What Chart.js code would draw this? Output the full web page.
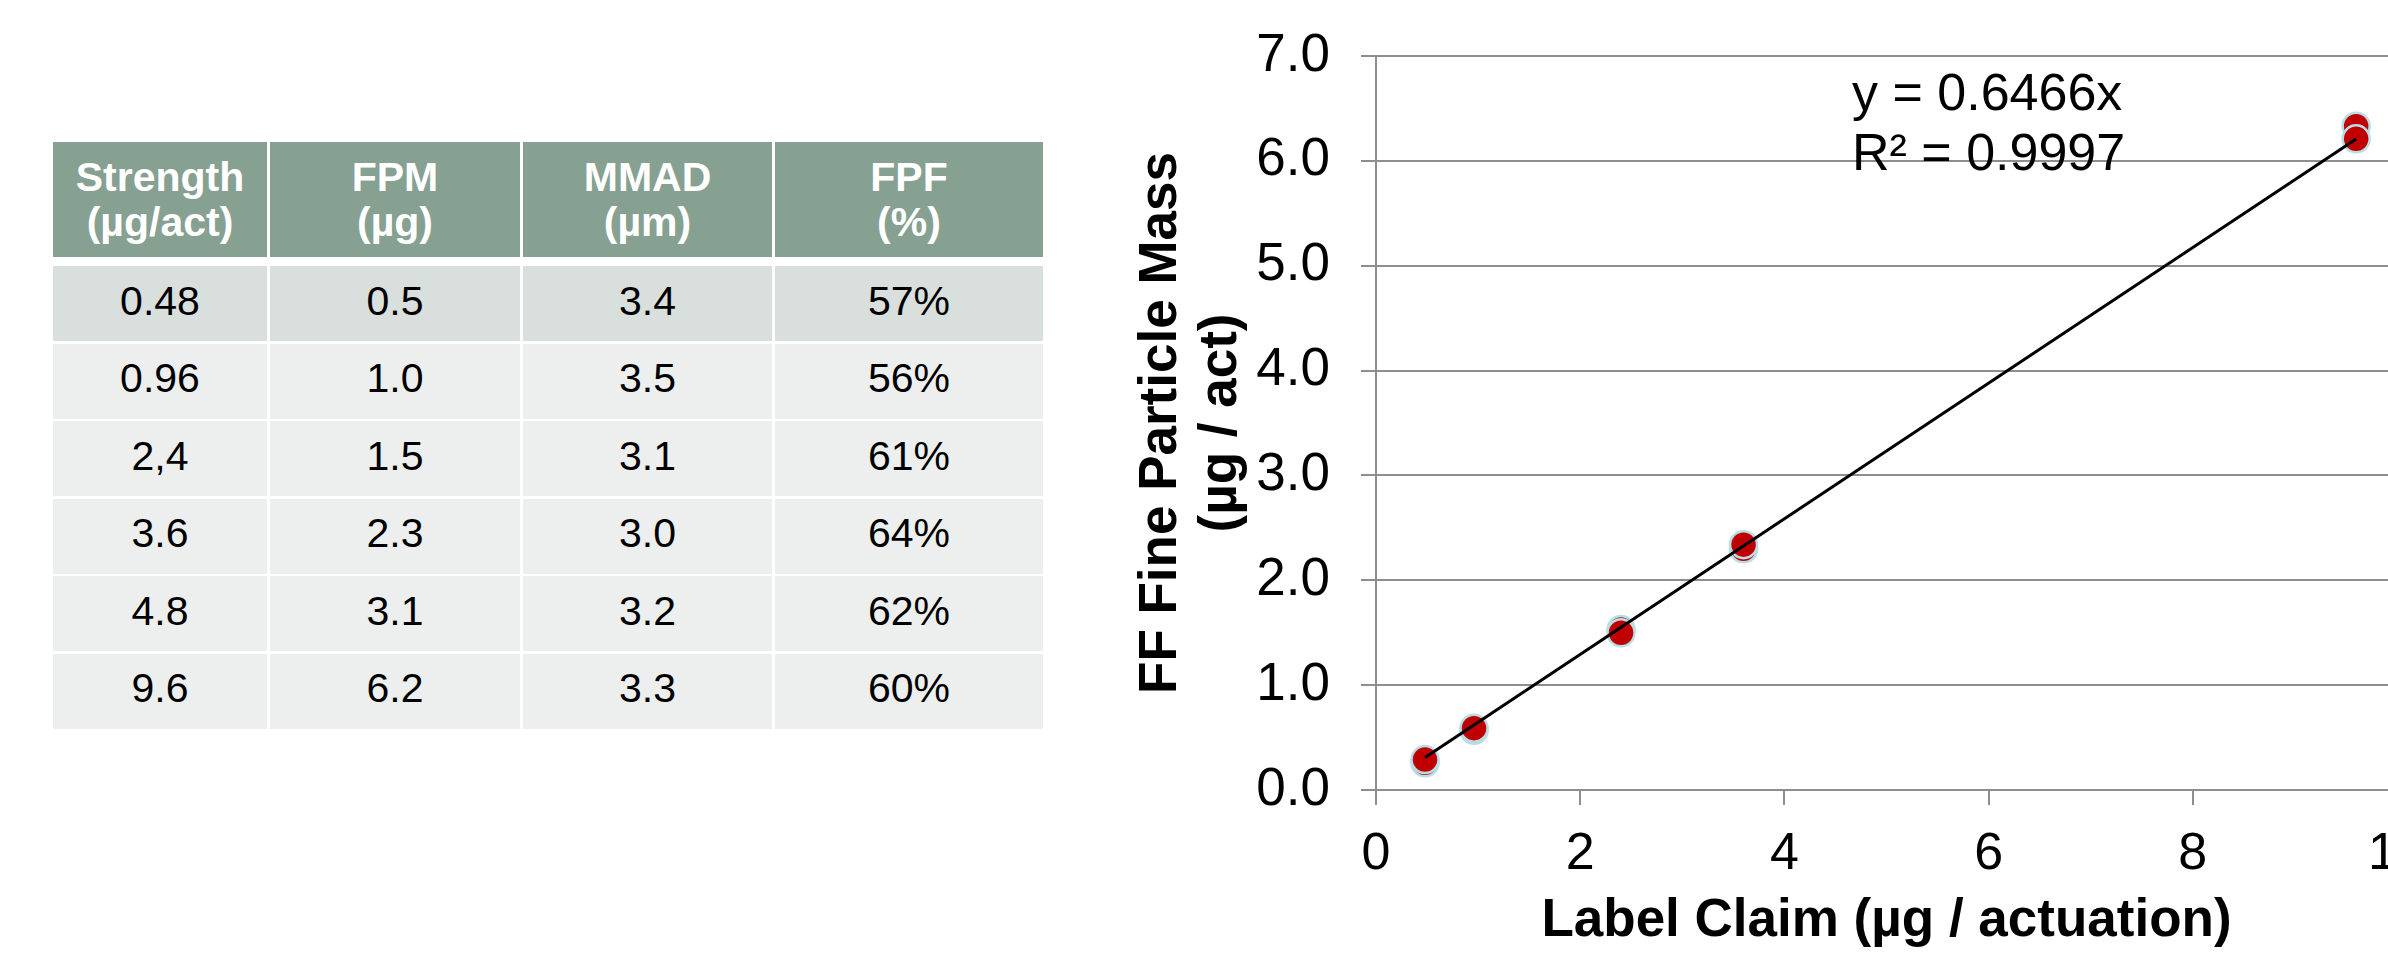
<!DOCTYPE html>
<html>
<head>
<meta charset="utf-8">
<script src="https://cdn.jsdelivr.net/npm/chart.js@4.4.1/dist/chart.umd.min.js"></script>
<style>
  html, body {
    margin: 0; padding: 0; background: #fff;
    width: 2388px; height: 961px; overflow: hidden; position: relative;
    font-family: 'Liberation Sans', Arial, sans-serif;
  }
  #summary {
    position: absolute; left: 53px; top: 142px;
    display: grid;
    grid-template-columns: 214px 250px 249px 268px;
    grid-template-rows: 121.5px repeat(6, 75px);
    column-gap: 3px; row-gap: 2.5px;
  }
  .hd {
    height: 115px; background: #86A092; color: #fff;
    font-weight: bold; font-size: 41px; line-height: 45px;
    display: flex; flex-direction: column; align-items: center; justify-content: center;
    text-align: center;
  }
  .cell {
    background: #EDEFEE; color: #000; font-size: 41px;
    display: flex; align-items: center; justify-content: center;
    padding-bottom: 5px; box-sizing: border-box;
  }
  .cell.first { background: #D9DFDC; }
  #chartBox { position: absolute; left: 1080px; top: 0; width: 1400px; height: 961px; }
</style>
</head>
<body>
<div id="summary"></div>
<div id="chartBox"><canvas id="fpmChart" width="1400" height="961"></canvas></div>
<script>
// Summary table columns
const tableHeaders = [['Strength', '(µg/act)'], ['FPM', '(µg)'], ['MMAD', '(µm)'], ['FPF', '(%)']];
const strengthCol = ['0.48', '0.96', '2,4', '3.6', '4.8', '9.6'];
const fpmCol = ['0.5', '1.0', '1.5', '2.3', '3.1', '6.2'];
const mmadCol = ['3.4', '3.5', '3.1', '3.0', '3.2', '3.3'];
const fpfCol = ['57%', '56%', '61%', '64%', '62%', '60%'];

// Fine particle mass vs label claim, two determinations per strength
const labelClaim = [0.48, 0.96, 2.4, 3.6, 9.6];
const fpmRun1 = [0.26, 0.57, 1.53, 2.30, 6.33];
const fpmRun2 = [0.29, 0.59, 1.50, 2.34, 6.21];

// Linear fit through the origin
const fitSlope = 0.6466;
const fitR2 = 0.9997;

// Axis ticks
const xTickValues = [0, 2, 4, 6, 8, 10];
const yTickValues = [0, 1, 2, 3, 4, 5, 6, 7];

// ---- build the table ----
const summary = document.getElementById('summary');
tableHeaders.forEach(lines => {
  const d = document.createElement('div');
  d.className = 'hd';
  lines.forEach(t => { const s = document.createElement('div'); s.textContent = t; d.appendChild(s); });
  summary.appendChild(d);
});
const columns = [strengthCol, fpmCol, mmadCol, fpfCol];
for (let r = 0; r < strengthCol.length; r++) {
  columns.forEach(col => {
    const d = document.createElement('div');
    d.className = 'cell' + (r === 0 ? ' first' : '');
    d.textContent = col[r];
    summary.appendChild(d);
  });
}

// ---- chart ----
const FONT = "'Liberation Sans', Arial, sans-serif";
const GRID = '#8e8e8e';

const fitLabel = {
  id: 'fitLabel',
  afterDatasetsDraw(chart) {
    const { ctx, chartArea } = chart;
    ctx.save();
    ctx.font = '52px ' + FONT;
    ctx.fillStyle = '#000';
    ctx.textAlign = 'left';
    ctx.textBaseline = 'alphabetic';
    const x = chartArea.left + 476;
    ctx.fillText('y = ' + fitSlope.toFixed(4) + 'x', x, chartArea.top + 54);
    ctx.fillText('R\u00B2 = ' + fitR2.toFixed(4), x, chartArea.top + 114);
    ctx.restore();
  }
};

const xMin = Math.min(...labelClaim);
const xMax = Math.max(...labelClaim);

const markerStyle = {
  backgroundColor: '#C00000',
  borderColor: '#B9DEE5',
  borderWidth: 2.5,
  pointRadius: 13.5
};

new Chart(document.getElementById('fpmChart'), {
  type: 'scatter',
  data: {
    datasets: [
      {
        label: 'Linear fit',
        data: [{ x: xMin, y: fitSlope * xMin }, { x: xMax, y: fitSlope * xMax }],
        showLine: true,
        borderColor: '#000',
        borderWidth: 3,
        pointRadius: 0,
        fill: false,
        order: 0
      },
      Object.assign({
        label: 'Run 2',
        data: labelClaim.map((x, i) => ({ x, y: fpmRun2[i] })),
        order: 1
      }, markerStyle),
      Object.assign({
        label: 'Run 1',
        data: labelClaim.map((x, i) => ({ x, y: fpmRun1[i] })),
        order: 2
      }, markerStyle)
    ]
  },
  options: {
    responsive: false,
    animation: false,
    devicePixelRatio: 1,
    layout: { padding: { left: 0, top: 56, right: 83, bottom: 0 } },
    plugins: { legend: { display: false }, tooltip: { enabled: false } },
    scales: {
      x: {
        type: 'linear', min: 0, max: 10,
        afterBuildTicks: s => { s.ticks = xTickValues.map(v => ({ value: v })); },
        afterFit: s => { s.height = 171; },
        grid: { drawOnChartArea: false, drawTicks: true, tickLength: 15, color: GRID, lineWidth: 2 },
        border: { display: true, color: GRID, width: 2 },
        ticks: { font: { family: FONT, size: 52 }, color: '#000', padding: 18, maxRotation: 0, autoSkip: false },
        title: {
          display: true, text: 'Label Claim (µg / actuation)', color: '#000',
          font: { family: FONT, size: 53, weight: 'bold', lineHeight: 1.2 },
          padding: { top: 0, bottom: 8 }
        }
      },
      y: {
        type: 'linear', min: 0, max: 7,
        afterBuildTicks: s => { s.ticks = yTickValues.map(v => ({ value: v })); },
        afterFit: s => { s.width = 296; },
        grid: { drawTicks: true, tickLength: 15, color: GRID, lineWidth: 2 },
        border: { display: true, color: GRID, width: 2 },
        ticks: {
          font: { family: FONT, size: 53, lineHeight: 0.9 }, color: '#000', padding: 31,
          callback: v => Number(v).toFixed(1)
        },
        title: {
          display: true, text: ['FF Fine Particle Mass', '(µg / act)'], color: '#000',
          font: { family: FONT, size: 53, weight: 'bold', lineHeight: 1.132 },
          padding: { top: 51, bottom: 0 }
        }
      }
    }
  },
  plugins: [fitLabel]
});
</script>
</body>
</html>
